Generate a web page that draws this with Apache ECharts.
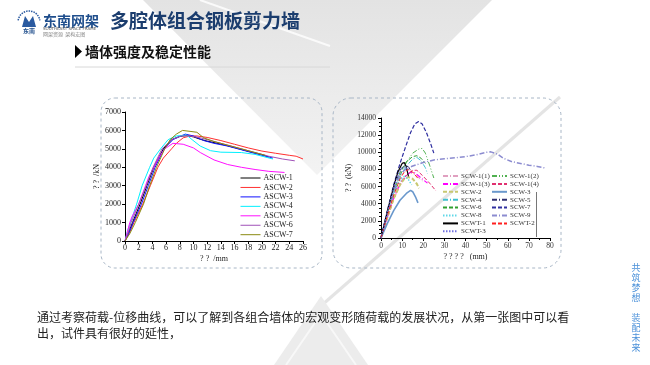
<!DOCTYPE html>
<html><head><meta charset="utf-8">
<script src="https://cdn.jsdelivr.net/npm/echarts@6/dist/echarts.min.js"></script>
<style>html,body{margin:0;padding:0;background:#fff}#c{width:650px;height:365px}</style>
</head><body><div id="c"></div>
<script>
// ---------- Left chart data (displacement mm, load kN) ----------
const leftNames = ['ASCW-1','ASCW-2','ASCW-3','ASCW-4','ASCW-5','ASCW-6','ASCW-7'];
const ASCW_1 = [[0,0],[0.5,450],[1.1,1000],[2.2,2000],[3.2,3000],[4.2,4000],[5.6,5000],[6.8,5500],[8,5680],[9,5720],[10,5650],[11,5520],[12,5420],[14,5260],[16,5070],[18,4870],[20,4680],[21,4560]];
const ASCW_2 = [[0,0],[0.6,400],[1.3,1000],[2.6,2000],[3.7,3000],[4.8,4000],[5.6,4500],[6.8,5000],[7.5,5300],[8.5,5600],[9.5,5700],[10.5,5700],[12,5620],[14,5450],[16,5250],[18,5050],[20,4880],[22,4760],[24,4650],[25,4600],[26,4450]];
const ASCW_3 = [[0,0],[0.6,450],[1.2,1000],[2.4,2000],[3.4,3000],[4.4,4000],[5.7,5000],[7,5500],[8.8,5800],[10,5700],[11.5,5450],[13,5300],[15,5150],[17,4950],[19,4750],[21.6,4500]];
const ASCW_4 = [[0,0],[0.4,600],[0.8,1000],[1.7,2000],[2.5,3000],[3.6,4000],[4.2,4500],[5.2,5000],[6.3,5500],[7.5,5700],[9,5750],[9.8,5500],[11,5150],[12.5,4900],[14,4820],[17,4800],[19,4700],[21.6,4450]];
const ASCW_5 = [[0,0],[0.7,1000],[1,1300],[2,2000],[3,3000],[3.5,3500],[4.2,4000],[4.9,4500],[5.8,5000],[7,5300],[8.5,5250],[10,5050],[11,4800],[13,4400],[15,4150],[17,4000],[19,3880],[21,3780],[23.3,3720]];
const ASCW_6 = [[0,0],[0.5,500],[0.9,1000],[2,2000],[3.1,3000],[4.1,4000],[5.4,5000],[6.8,5500],[8.2,5700],[9.5,5700],[11,5600],[12.5,5450],[14.5,5250],[16.5,5050],[19,4800],[21,4600],[23,4450],[24.8,4350]];
const ASCW_7 = [[0,0],[0.7,400],[1.5,1000],[2.7,2000],[3.6,3000],[4.6,4000],[5.8,5000],[6.6,5500],[7.5,5800],[8.4,6000],[9.5,5950],[10.5,5900],[11.5,5600],[13,5400],[15,5200],[17,5000],[19,4800],[20.5,4650]];

// ---------- Right chart data ----------
const SCW_1_1 = [[0,0],[3,2500],[6,4800],[9,6500],[12,7400],[14,7600],[16,7400],[18,7000],[20,6600]];
const SCW_1_2 = [[0,0],[3,2800],[6,5300],[9,7300],[12,8800],[15,9900],[18,10400],[19.5,10450],[21,9900],[23,8500],[25,7000]];
const SCW_1_3 = [[0,0],[3,2400],[6,4600],[9,6300],[12,7300],[14,7700],[16,7600],[18,7200],[20,6800],[22,6400]];
const SCW_1_4 = [[0,0],[3,2300],[6,4500],[9,6200],[12,7300],[15,7900],[17,7900],[20,7200],[23,6400],[26,5500]];
const SCW_2 = [[0,0],[3,2400],[6,4600],[9,6200],[11,6900],[13,7100],[15,6900],[17,6300],[18,5800]];
const SCW_3 = [[0,0],[3,1700],[6,3200],[9,4400],[12,5200],[14,5550],[15,5400],[16.5,4700],[17.5,4100]];
const SCW_4 = [[0,0],[3,2700],[6,5100],[9,7100],[12,8400],[15,9200],[17,9400],[19,9000],[21,8200],[22,7500]];
const SCW_5 = [[0,0],[3,3000],[6,5800],[9,7900],[11,8500],[13,8300],[15,7500]];
const SCW_6 = [[0,0],[3,2900],[6,5500],[9,7600],[12,8900],[15,9500],[17,9600],[19,9300],[21,8700]];
const SCW_7 = [[0,0],[3,3200],[6,6200],[9,8700],[12,10900],[14,12300],[16,13300],[17.8,13600],[19.5,13300],[21.5,12300],[23.5,11000],[25,9900]];
const SCW_8 = [[0,0],[3,2800],[6,5300],[9,6800],[11,7200],[13,6800],[14.5,6200]];
const SCW_9 = [[0,0],[3,2900],[6,5600],[9,7400],[12,8100],[15,8400],[20,8800],[25,9100],[30,9250],[35,9350],[40,9500],[45,9700],[50,10000],[52,10050],[55,9800],[58,9300],[62,8900],[66,8700],[70,8500],[74,8350],[78,8150]];
const SCWT_1 = [[0,0],[3,3100],[6,6000],[8,7700],[10,8700],[11,8800],[12,8300],[13,7200]];
const SCWT_2 = [[0,0],[3,2600],[6,5000],[9,6900],[11,7700],[13,8000],[15,7700],[17,7100],[18,6800]];
const SCWT_3 = [[0,0],[3,3000],[6,5800],[8,7400],[10,8200],[11.5,8300],[13,7900]];
const rightCol1 = ['SCW-1(1)','SCW-1(3)','SCW-2','SCW-4','SCW-6','SCW-8','SCWT-1','SCWT-3'];
const rightCol2 = ['SCW-1(2)','SCW-1(4)','SCW-3','SCW-5','SCW-7','SCW-9','SCWT-2'];

// ---------- Texts ----------
const titleText = '多腔体组合钢板剪力墙';
const subTitleText = '墙体强度及稳定性能';
const bodyLine1 = '通过考察荷载-位移曲线，可以了解到各组合墙体的宏观变形随荷载的发展状况，从第一张图中可以看';
const bodyLine2 = '出，试件具有很好的延性，';
const sideText = '共\n筑\n梦\n想\n\n装\n配\n未\n来';

const DD = [5,2,1,2];      // dash-dot
const DDD = [5,2,1,2,1,2]; // dash-dot-dot
function L(name, data, color, type, width, idx) {
  return {name, type:'line', data, xAxisIndex:idx, yAxisIndex:idx, symbol:'none', smooth:false,
    lineStyle:{color, type, width}, itemStyle:{color}, z:3, animation:false};
}
const series = [
  L('ASCW-1', ASCW_1, '#000000', 'solid', 1, 0),
  L('ASCW-2', ASCW_2, '#ff3030', 'solid', 1, 0),
  L('ASCW-3', ASCW_3, '#1010ff', 'solid', 1, 0),
  L('ASCW-4', ASCW_4, '#00f0ff', 'solid', 1, 0),
  L('ASCW-5', ASCW_5, '#ff10ff', 'solid', 1, 0),
  L('ASCW-6', ASCW_6, '#a050b8', 'solid', 1, 0),
  L('ASCW-7', ASCW_7, '#8a8a10', 'solid', 1, 0),
  L('SCW-1(1)', SCW_1_1, '#e0a0c0', DD, 1, 1),
  L('SCW-1(2)', SCW_1_2, '#50b050', DDD, 1, 1),
  L('SCW-1(3)', SCW_1_3, '#ff00ff', DD, 1.2, 1),
  L('SCW-1(4)', SCW_1_4, '#e03070', [4,2], 1, 1),
  L('SCW-2', SCW_2, '#c8c870', [4,2], 2, 1),
  L('SCW-3', SCW_3, '#6a98cc', 'solid', 1.6, 1),
  L('SCW-4', SCW_4, '#40c0d0', DD, 1, 1),
  L('SCW-5', SCW_5, '#303070', DD, 1, 1),
  L('SCW-6', SCW_6, '#30a030', [4,2], 1, 1),
  L('SCW-7', SCW_7, '#3030a0', [4,2], 1.2, 1),
  L('SCW-8', SCW_8, '#60d8e8', [1.5,1.5], 1.5, 1),
  L('SCW-9', SCW_9, '#8c8cd0', DD, 1.5, 1),
  L('SCWT-1', SCWT_1, '#000000', 'solid', 1.2, 1),
  L('SCWT-2', SCWT_2, '#ff2020', [4,2], 1, 1),
  L('SCWT-3', SCWT_3, '#7070e0', [1.5,1.5], 1.2, 1)
];

const serif = '"Liberation Serif", "DejaVu Serif", serif';
const plain = v => String(v);
function axisCommon(extra) {
  return Object.assign({
    type:'value', splitLine:{show:false},
    axisLine:{show:true, onZero:false, lineStyle:{color:'#000', width:1}},
    axisTick:{show:true, inside:false, length:3, lineStyle:{color:'#000'}},
    axisLabel:{fontFamily:serif, fontSize:8, color:'#222', margin:3, formatter:plain},
    nameTextStyle:{fontFamily:serif, fontSize:8, color:'#222'}
  }, extra);
}
const hiddenSymbol = {opacity:0, borderWidth:0};

const option = {
  animation:false,
  backgroundColor:'#ffffff',
  grid:[
    {left:125, top:112, width:178, height:129},
    {left:381, top:118, width:169, height:120}
  ],
  xAxis:[
    axisCommon({gridIndex:0, min:0, max:26, interval:2, name:'? ?  /mm', nameLocation:'middle', nameGap:14}),
    axisCommon({gridIndex:1, min:0, max:80, interval:10, name:'? ? ? ?   (mm)', nameLocation:'middle', nameGap:15,
      minorTick:{show:true, splitNumber:2, length:2, lineStyle:{color:'#000'}}, axisLabel:{fontFamily:serif, fontSize:7.5, color:'#333', margin:4, formatter:plain}})
  ],
  yAxis:[
    axisCommon({gridIndex:0, min:0, max:7000, interval:1000, name:'? ?  /kN', nameLocation:'middle', nameGap:22,
      axisLabel:{fontFamily:serif, fontSize:8, color:'#222', margin:4, formatter:plain}}),
    axisCommon({gridIndex:1, min:0, max:14000, interval:2000, name:'? ?  (kN)', nameLocation:'middle', nameGap:27,
      minorTick:{show:true, splitNumber:4, length:2, lineStyle:{color:'#000'}}, axisLabel:{fontFamily:serif, fontSize:7.5, color:'#333', margin:5, formatter:plain}})
  ],
  legend:[
    {data:leftNames, orient:'vertical', left:240, top:174, itemWidth:20, itemHeight:8, itemGap:1.45, padding:0, itemStyle:hiddenSymbol,
      lineStyle:{width:1},
      textStyle:{fontFamily:serif, fontSize:8, color:'#222', padding:[0,0,0,-2]}},
    {data:rightCol1, orient:'vertical', left:442, top:172.5, itemWidth:15, itemHeight:7, itemGap:0.9, padding:0, itemStyle:hiddenSymbol,
      textStyle:{fontFamily:serif, fontSize:7, color:'#333', padding:[0,0,0,-2]}},
    {data:rightCol2, orient:'vertical', left:491, top:172.5, itemWidth:15, itemHeight:7, itemGap:0.9, padding:0, itemStyle:hiddenSymbol,
      textStyle:{fontFamily:serif, fontSize:7, color:'#333', padding:[0,0,0,-2]}}
  ],
  series,
  graphic:[
    // background decoration
    {type:'polygon', z:-10, silent:true, shape:{points:[[143,0],[492,0],[317,175]]},
      style:{fill:{type:'linear', x:0, y:0, x2:0, y2:1, colorStops:[{offset:0, color:'#e3e3e3'},{offset:1, color:'#f3f3f3'}]}}},
    {type:'line', z:-9, silent:true, shape:{x1:200, y1:0, x2:330, y2:46}, style:{stroke:'#fafafa', lineWidth:2}},
    {type:'line', z:-9, silent:true, shape:{x1:322, y1:305, x2:560, y2:97}, style:{stroke:'#e4e4e4', lineWidth:3}},
    {type:'polygon', z:-9, silent:true, shape:{points:[[321,296],[274,365],[368,365]]}, style:{fill:'#ececec'}},
    {type:'polyline', z:-8, silent:true, shape:{points:[[286,365],[321,314],[356,365]]}, style:{stroke:'#f8f8f8', lineWidth:2, fill:'none'}},
    // logo
    {type:'arc', z:5, shape:{cx:29, cy:22, r:11, startAngle:Math.PI*1.05, endAngle:Math.PI*1.95}, style:{stroke:'#2a5aa0', lineWidth:1.5, lineDash:[1.5,1], fill:'none'}},
    {type:'polygon', z:5, shape:{points:[[22,27],[25,16],[29,22],[33,16],[36,27]]}, style:{fill:'#2a5aa0'}},
    {type:'text', z:5, style:{x:29, y:31, text:'东南', font:'bold 6px "Noto Sans CJK SC"', fill:'#1f4e8c', align:'center', verticalAlign:'middle'}},
    {type:'text', z:5, style:{x:43, y:21, text:'东南网架', font:'bold 14px "Noto Sans CJK SC"', fill:'#1f4e8c', align:'left', verticalAlign:'middle'}},
    {type:'text', z:5, style:{x:43, y:29, text:'SOUTHEAST SPACE FRAME', font:'4px "DejaVu Sans"', fill:'#555', align:'left', verticalAlign:'middle'}},
    {type:'text', z:5, style:{x:43, y:34, text:'网架资源  架构宏图', font:'5px "Noto Sans CJK SC"', fill:'#888', align:'left', verticalAlign:'middle'}},
    // title
    {type:'text', z:5, style:{x:110, y:21, text:titleText, font:'bold 19px "Noto Sans CJK SC"', fill:'#1b3d6e', align:'left', verticalAlign:'middle'}},
    // subtitle
    {type:'polygon', z:5, shape:{points:[[75,45],[82,51.5],[75,58]]}, style:{fill:'#000'}},
    {type:'text', z:5, style:{x:85, y:52, text:subTitleText, font:'bold 14px "Noto Sans CJK SC"', fill:'#111', align:'left', verticalAlign:'middle'}},
    {type:'line', z:-5, shape:{x1:75, y1:67, x2:330, y2:67}, style:{stroke:'#d8d8d8', lineWidth:1}},
    // chart frames
    {type:'rect', z:1, shape:{x:101, y:98, width:221, height:170, r:14}, style:{fill:'none', stroke:'#a8b6c6', lineWidth:1, lineDash:[3,3]}},
    {type:'rect', z:1, shape:{x:333, y:98, width:228, height:170, r:18}, style:{fill:'none', stroke:'#a8b6c6', lineWidth:1, lineDash:[3,3]}},
    {type:'line', z:2, shape:{x1:536.5, y1:192, x2:536.5, y2:237}, style:{stroke:'#777', lineWidth:1}},
    // body text
    {type:'text', z:5, style:{x:37, y:317, text:bodyLine1, font:'12px "Noto Sans CJK SC"', fill:'#222', align:'left', verticalAlign:'middle'}},
    {type:'text', z:5, style:{x:37, y:333, text:bodyLine2, font:'12px "Noto Sans CJK SC"', fill:'#222', align:'left', verticalAlign:'middle'}},
    // side vertical text
    {type:'text', z:5, style:{x:636, y:263, text:sideText, font:'9px "Noto Sans CJK SC"', lineHeight:10, fill:'#4a90d9', align:'center', verticalAlign:'top'}}
  ]
};
const chart = echarts.init(document.getElementById('c'), null, {renderer:'canvas'});
chart.setOption(option);
</script></body></html>
